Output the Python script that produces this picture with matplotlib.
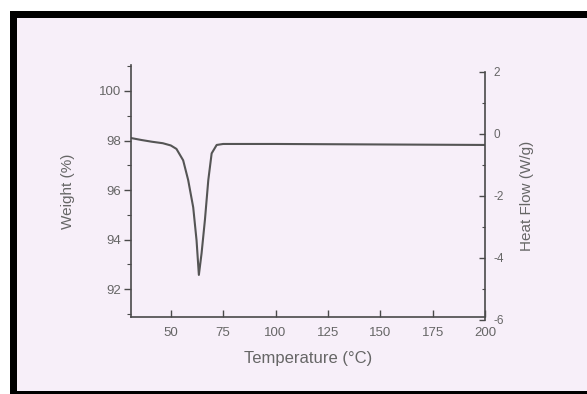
import matplotlib
matplotlib.use("Agg")
import matplotlib.pyplot as plt
from matplotlib.patches import Rectangle
from matplotlib.ticker import MultipleLocator

# ---- data ----
temperature = [31, 36, 41, 46.2, 50, 52.7, 55.9, 58.3, 60.7, 62.3, 63.4,
               64.7, 66.3, 67.9, 69.5, 71.9, 75, 100, 125, 150, 175, 200]
weight = [98.1, 98.02, 97.95, 97.89, 97.8, 97.66, 97.2, 96.4, 95.3, 93.96, 92.57,
          93.45, 94.8, 96.4, 97.48, 97.82, 97.86, 97.86, 97.85, 97.84, 97.83, 97.82]

x_ticks = [50, 75, 100, 125, 150, 175, 200]
left_ticks = [92, 94, 96, 98, 100]
right_ticks = [-6, -4, -2, 0, 2]

W, H = 587, 394
plt.rcParams["font.family"] = ["Liberation Sans", "DejaVu Sans"]
plt.rcParams["axes.unicode_minus"] = False
fig = plt.figure(figsize=(W / 100, H / 100), dpi=100)
fig.patch.set_facecolor("white")

def fx(px):
    return px / W

def fy(py):
    return 1 - py / H

# scanned page frame: black border and paper
fig.patches.append(Rectangle((fx(10), -0.01), 1.02 - fx(10), fy(11) + 0.01,
                             transform=fig.transFigure,
                             facecolor="black", edgecolor="none", zorder=-10))
fig.patches.append(Rectangle((fx(17), fy(391)), 1.05 - fx(17), fy(18) - fy(391),
                             transform=fig.transFigure, facecolor="#f7eff9",
                             edgecolor="none", zorder=-9))

ink = "#4a4a4a"
txt = "#666666"

# main (weight) axes
ax = fig.add_axes([fx(131), fy(317), fx(485) - fx(131), fy(65) - fy(317)])
ax.set_facecolor("none")
ax.plot(temperature, weight, color="#555555", lw=1.5)
ax.set_xlim(31, 200)
ax.set_ylim(90.87, 101.05)
ax.set_xticks(x_ticks)
ax.set_yticks(left_ticks)
ax.yaxis.set_minor_locator(MultipleLocator(1))
for s in ["top", "right"]:
    ax.spines[s].set_visible(False)
for s in ["left", "bottom"]:
    ax.spines[s].set_color(ink)
    ax.spines[s].set_linewidth(1.2)
ax.tick_params(axis="x", direction="in", length=5, width=1, color=ink,
               labelcolor=txt, labelsize=9.5, pad=7)
ax.tick_params(axis="y", which="major", direction="out", length=5, width=1, color=ink,
               labelcolor=txt, labelsize=9.5, pad=2)
ax.tick_params(axis="y", which="minor", direction="out", length=3, width=0.8, color=ink)
ax.set_xlabel("Temperature (°C)", color=txt, fontsize=12, labelpad=9)
ax.set_ylabel("Weight (%)", color=txt, fontsize=11, labelpad=17)

# right (heat flow) axis
ax2 = fig.add_axes([fx(131), fy(320), fx(485) - fx(131), fy(72) - fy(320)])
ax2.set_facecolor("none")
ax2.set_xlim(31, 200)
ax2.set_ylim(-6, 2)
ax2.set_xticks([])
for s in ["top", "left", "bottom"]:
    ax2.spines[s].set_visible(False)
ax2.spines["right"].set_color(ink)
ax2.spines["right"].set_linewidth(1.2)
ax2.yaxis.tick_right()
ax2.yaxis.set_label_position("right")
ax2.set_yticks(right_ticks)
ax2.yaxis.set_minor_locator(MultipleLocator(1))
ax2.tick_params(axis="y", which="major", direction="in", length=4, width=1, color=ink,
                labelcolor=txt, labelsize=8.5, pad=6)
ax2.tick_params(axis="y", which="minor", direction="in", length=2.5, width=0.8, color=ink)
ax2.set_ylabel("Heat Flow (W/g)", color=txt, fontsize=11, labelpad=12)

fig.savefig("out.png", dpi=100, facecolor=fig.get_facecolor())
